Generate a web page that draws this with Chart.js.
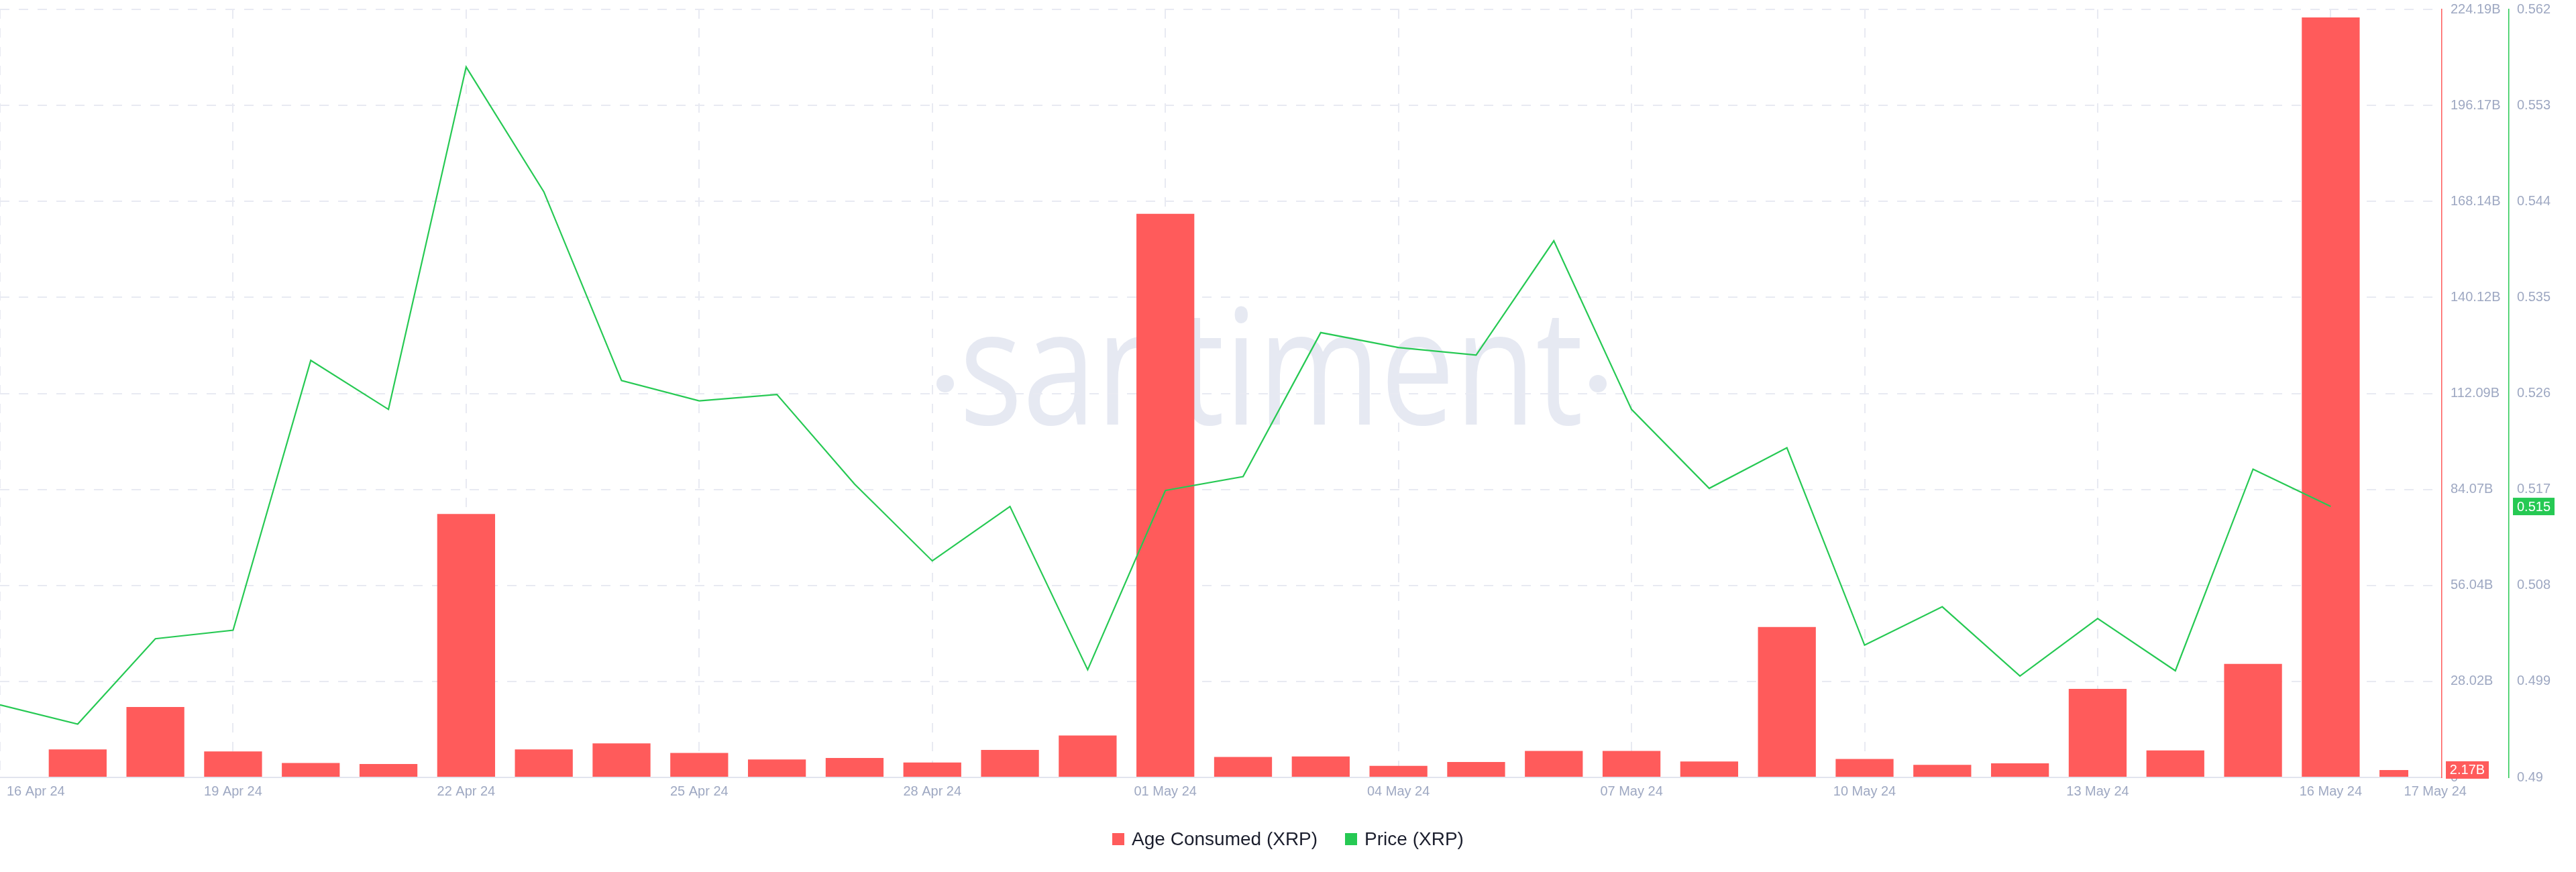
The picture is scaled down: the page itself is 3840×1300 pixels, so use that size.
<!DOCTYPE html>
<html>
<head>
<meta charset="utf-8">
<title>Age Consumed vs Price (XRP)</title>
<script src="https://cdn.jsdelivr.net/npm/chart.js@4.4.1/dist/chart.umd.min.js"></script>
<style>
  html, body { margin: 0; padding: 0; background: #fff; }
  #wrap { position: relative; width: 3840px; height: 1300px; overflow: hidden; }
  #legend {
    position: absolute; left: 0; top: 1236px; width: 3840px; height: 30px;
    display: flex; justify-content: center; align-items: center;
    font: 28px "Liberation Sans", Arial, sans-serif; color: #1b1e2d;
  }
  .item { display: flex; align-items: center; margin: 0 20.5px; }
  .box { width: 18px; height: 18px; margin-right: 11px; }
</style>
</head>
<body>
<div id="wrap">
  <canvas id="chart"></canvas>
  <div id="legend"></div>
</div>
<script>
// Daily data, 16 Apr 24 .. 17 May 24
const dateLabels = [
  '16 Apr 24', '17 Apr 24', '18 Apr 24', '19 Apr 24', '20 Apr 24', '21 Apr 24', '22 Apr 24', '23 Apr 24',
  '24 Apr 24', '25 Apr 24', '26 Apr 24', '27 Apr 24', '28 Apr 24', '29 Apr 24', '30 Apr 24', '01 May 24',
  '02 May 24', '03 May 24', '04 May 24', '05 May 24', '06 May 24', '07 May 24', '08 May 24', '09 May 24',
  '10 May 24', '11 May 24', '12 May 24', '13 May 24', '14 May 24', '15 May 24', '16 May 24', '17 May 24'
];

// Age consumed, in billions
const ageConsumed = [
  0, 8.17, 20.58, 7.59, 4.23, 3.94, 76.92, 8.17,
  9.93, 7.15, 5.25, 5.69, 4.38, 8.03, 12.26, 164.5,
  5.98, 6.13, 3.36, 4.52, 7.74, 7.74, 4.67, 43.93,
  5.40, 3.65, 4.09, 25.83, 7.88, 33.13, 221.86, 2.17
];

// Price in USD (no price yet for 17 May)
const price = [
  0.4968, 0.4950, 0.5030, 0.5038, 0.5291, 0.5245, 0.5566, 0.5449,
  0.5272, 0.5253, 0.5259, 0.5175, 0.5103, 0.5154, 0.5001, 0.5169,
  0.5182, 0.5317, 0.5303, 0.5296, 0.5403, 0.5245, 0.5171, 0.5209,
  0.5024, 0.5060, 0.4995, 0.5049, 0.5000, 0.5189, 0.5154, null
];

const xLabelIndex = [0, 3, 6, 9, 12, 15, 18, 21, 24, 27, 30, 31];
const ageTickLabels = ['0', '28.02B', '56.04B', '84.07B', '112.09B', '140.12B', '168.14B', '196.17B', '224.19B'];
const priceTickLabels = ['0.49', '0.499', '0.508', '0.517', '0.526', '0.535', '0.544', '0.553', '0.562'];
const ageMax = 224.19;
const priceMin = 0.49;
const priceMax = 0.562;

const red = '#ff5b5b';
const green = '#26c953';
const axisText = '#9ea8c2';
const gridColor = '#e8eaf2';
const tickFont = { family: '"Liberation Sans", Arial, sans-serif', size: 20 };

// big faint logo behind everything
const watermark = {
  id: 'watermark',
  beforeDraw(chart) {
    const ctx = chart.ctx;
    ctx.save();
    ctx.fillStyle = '#e6e9f2';
    ctx.font = '241px "Open Sans", sans-serif';
    const m = ctx.measureText('santiment');
    const ink = m.actualBoundingBoxLeft + m.actualBoundingBoxRight;
    ctx.translate(1895, 633);
    ctx.scale(916 / ink, 1);
    ctx.textAlign = 'center';
    ctx.fillText('santiment', 0, 0);
    ctx.restore();
    ctx.save();
    ctx.fillStyle = '#e6e9f2';
    [1409, 2382].forEach(x => {
      ctx.beginPath();
      ctx.arc(x, 572, 13, 0, Math.PI * 2);
      ctx.fill();
    });
    ctx.restore();
  }
};

// date labels under the axis
const xLabels = {
  id: 'xLabels',
  afterDraw(chart) {
    const { ctx, chartArea } = chart;
    const x = chart.scales.x;
    ctx.save();
    ctx.font = '20px "Liberation Sans", Arial, sans-serif';
    ctx.fillStyle = axisText;
    ctx.textBaseline = 'alphabetic';
    xLabelIndex.forEach((idx, k) => {
      const text = dateLabels[idx];
      const w = ctx.measureText(text).width;
      let left = x.getPixelForValue(idx) - w / 2;
      if (left < chartArea.left + 10) left = chartArea.left + 10;
      if (k === xLabelIndex.length - 1) left += 40;
      ctx.fillText(text, left, chartArea.bottom + 27);
    });
    ctx.restore();
  }
};

// last-value badges on the two right axes
const badges = {
  id: 'badges',
  afterDraw(chart) {
    const ctx = chart.ctx;
    const yAge = chart.scales.y;
    const yPrice = chart.scales.y1;
    const lastAge = ageConsumed[ageConsumed.length - 1];
    const lastPrice = price.filter(v => v !== null).pop();
    ctx.save();
    ctx.font = '20px "Liberation Sans", Arial, sans-serif';
    ctx.textAlign = 'center';
    ctx.textBaseline = 'middle';

    let py = yAge.getPixelForValue(lastAge);
    ctx.fillStyle = red;
    ctx.fillRect(yAge.left + 6, py - 13, 64, 26);
    ctx.fillStyle = '#fff';
    ctx.fillText(lastAge.toFixed(2) + 'B', yAge.left + 38, py + 1);

    py = yPrice.getPixelForValue(lastPrice);
    ctx.fillStyle = green;
    ctx.fillRect(yPrice.left + 6, py - 13, 62, 26);
    ctx.fillStyle = '#fff';
    ctx.fillText(lastPrice.toFixed(3), yPrice.left + 37, py + 1);
    ctx.restore();
  }
};

// fixed width for the right axes, no extra label padding above/below
function fitRightAxis(s) {
  s.width = 100;
  s.paddingTop = 0;
  s.paddingBottom = 0;
}

const chart = new Chart(document.getElementById('chart'), {
  type: 'bar',
  data: {
    datasets: [{
      type: 'line',
      label: 'Price (XRP)',
      data: price.map((v, i) => ({ x: i, y: v })),
      yAxisID: 'y1',
      borderColor: green,
      backgroundColor: green,
      borderWidth: 2.2,
      pointRadius: 0,
      tension: 0,
      order: 0
    }, {
      type: 'bar',
      label: 'Age Consumed (XRP)',
      data: ageConsumed.map((v, i) => ({ x: i, y: v })),
      yAxisID: 'y',
      backgroundColor: red,
      borderWidth: 0,
      barPercentage: 0.745,
      categoryPercentage: 1,
      clip: { left: 0, top: 0, right: -50, bottom: 0 },
      order: 1
    }]
  },
  options: {
    responsive: true,
    maintainAspectRatio: false,
    animation: false,
    events: [],
    layout: { padding: { left: 0, right: 0, top: 14, bottom: 141 } },
    plugins: {
      legend: { display: false },
      tooltip: { enabled: false }
    },
    scales: {
      x: {
        type: 'linear',
        min: 0,
        max: 31.43,
        offset: false,
        afterBuildTicks: s => { s.ticks = xLabelIndex.filter(i => i % 3 === 0).map(v => ({ value: v })); },
        ticks: { display: false },
        grid: { offset: false, drawTicks: false, color: gridColor, lineWidth: 2 },
        border: { display: true, color: '#e1e4ee', width: 2, dash: [14, 14] }
      },
      y: {
        position: 'right',
        min: 0,
        max: ageMax,
        afterBuildTicks: s => {
          s.ticks = ageTickLabels.map((_, i) => ({ value: ageMax * i / (ageTickLabels.length - 1) }));
        },
        afterFit: fitRightAxis,
        ticks: { padding: 13, color: axisText, font: tickFont, callback: (v, i) => ageTickLabels[i] },
        grid: {
          drawTicks: false,
          lineWidth: 2,
          color: c => (c.tick && c.tick.value === 0 ? 'rgba(0,0,0,0)' : gridColor)
        },
        border: { display: true, color: red, width: 1.5, dash: [14, 14] }
      },
      y1: {
        position: 'right',
        min: priceMin,
        max: priceMax,
        afterBuildTicks: s => {
          s.ticks = priceTickLabels.map((_, i) => ({ value: priceMin + (priceMax - priceMin) * i / (priceTickLabels.length - 1) }));
        },
        afterFit: fitRightAxis,
        ticks: { padding: 12, color: axisText, font: tickFont, callback: (v, i) => priceTickLabels[i] },
        grid: { display: false, drawTicks: false },
        border: { display: true, color: green, width: 1.5 }
      }
    }
  },
  plugins: [watermark, xLabels, badges]
});

// html legend from the datasets, bars first
const legend = document.getElementById('legend');
[chart.data.datasets[1], chart.data.datasets[0]].forEach(ds => {
  const item = document.createElement('div');
  item.className = 'item';
  const box = document.createElement('span');
  box.className = 'box';
  box.style.background = ds.type === 'bar' ? ds.backgroundColor : ds.borderColor;
  const label = document.createElement('span');
  label.textContent = ds.label;
  item.appendChild(box);
  item.appendChild(label);
  legend.appendChild(item);
});
</script>
</body>
</html>
